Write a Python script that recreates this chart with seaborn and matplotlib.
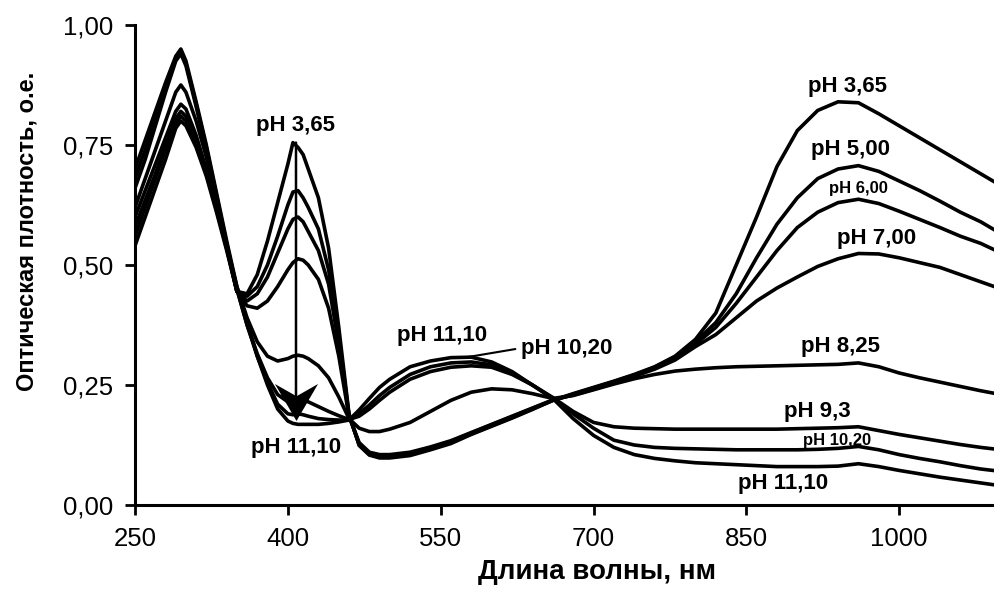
import matplotlib
matplotlib.use("Agg")
import matplotlib.pyplot as plt
from matplotlib.path import Path
import numpy as np
import pandas as pd
import seaborn as sns

# Wavelength grid, nm
wavelength = [250, 260, 270, 280, 290, 295, 300, 310, 320, 330, 340, 350, 360, 370, 380, 390,
              400, 405, 410, 415, 420, 430, 440, 450, 460, 470, 480, 490, 500, 520, 540, 560,
              580, 600, 620, 640, 660, 680, 700, 720, 740, 760, 780, 800, 820, 840, 860, 880,
              900, 920, 940, 960, 980, 1000, 1020, 1040, 1060, 1080, 1100]

# Optical density spectra at each pH
ph_3_65 = [0.54, 0.60, 0.66, 0.72, 0.785, 0.80, 0.79, 0.745, 0.685, 0.61, 0.53, 0.445, 0.44, 0.48, 0.55, 0.63,
           0.71, 0.755, 0.745, 0.73, 0.70, 0.64, 0.535, 0.37, 0.19, 0.124, 0.104, 0.098, 0.098, 0.103, 0.115, 0.128,
           0.147, 0.164, 0.181, 0.199, 0.218, 0.232, 0.245, 0.258, 0.272, 0.288, 0.31, 0.345, 0.40, 0.50, 0.60, 0.705,
           0.78, 0.822, 0.84, 0.838, 0.815, 0.79, 0.765, 0.74, 0.715, 0.69, 0.665]
ph_5_00 = [0.56, 0.62, 0.68, 0.74, 0.795, 0.81, 0.80, 0.755, 0.69, 0.615, 0.535, 0.445, 0.435, 0.455, 0.50, 0.56,
           0.625, 0.652, 0.655, 0.64, 0.62, 0.575, 0.49, 0.35, 0.188, 0.125, 0.105, 0.10, 0.10, 0.105, 0.117, 0.13,
           0.148, 0.165, 0.182, 0.20, 0.218, 0.231, 0.244, 0.257, 0.271, 0.287, 0.308, 0.34, 0.38, 0.44, 0.515, 0.585,
           0.64, 0.68, 0.70, 0.707, 0.695, 0.675, 0.655, 0.633, 0.61, 0.59, 0.565]
ph_6_00 = [0.58, 0.635, 0.69, 0.75, 0.805, 0.82, 0.81, 0.76, 0.695, 0.62, 0.535, 0.445, 0.425, 0.44, 0.475, 0.525,
           0.575, 0.595, 0.60, 0.59, 0.57, 0.53, 0.46, 0.335, 0.186, 0.127, 0.107, 0.102, 0.102, 0.107, 0.119, 0.132,
           0.15, 0.167, 0.184, 0.201, 0.218, 0.23, 0.243, 0.256, 0.27, 0.285, 0.305, 0.335, 0.37, 0.42, 0.475, 0.53,
           0.578, 0.61, 0.63, 0.637, 0.628, 0.612, 0.595, 0.578, 0.56, 0.545, 0.525]
ph_7_00 = [0.60, 0.655, 0.71, 0.765, 0.82, 0.835, 0.825, 0.77, 0.70, 0.625, 0.54, 0.445, 0.415, 0.41, 0.425, 0.455,
           0.49, 0.505, 0.513, 0.51, 0.50, 0.47, 0.41, 0.31, 0.185, 0.13, 0.11, 0.105, 0.105, 0.11, 0.121, 0.134,
           0.151, 0.168, 0.185, 0.202, 0.219, 0.229, 0.241, 0.254, 0.268, 0.283, 0.302, 0.33, 0.355, 0.39, 0.425, 0.452,
           0.475, 0.497, 0.513, 0.524, 0.523, 0.515, 0.505, 0.495, 0.48, 0.465, 0.45]
ph_8_25 = [0.62, 0.68, 0.74, 0.80, 0.86, 0.875, 0.86, 0.80, 0.725, 0.635, 0.54, 0.455, 0.39, 0.34, 0.31, 0.30,
           0.305, 0.31, 0.312, 0.31, 0.305, 0.29, 0.265, 0.225, 0.18, 0.16, 0.153, 0.153, 0.158, 0.172, 0.195, 0.218,
           0.235, 0.242, 0.24, 0.232, 0.222, 0.228, 0.24, 0.252, 0.263, 0.272, 0.279, 0.283, 0.286, 0.288, 0.289, 0.29,
           0.291, 0.292, 0.293, 0.296, 0.288, 0.275, 0.265, 0.256, 0.247, 0.238, 0.23]
ph_9_3 = [0.66, 0.72, 0.79, 0.86, 0.925, 0.94, 0.915, 0.83, 0.74, 0.64, 0.54, 0.45, 0.375, 0.315, 0.265, 0.23,
          0.215, 0.215, 0.218, 0.218, 0.215, 0.205, 0.195, 0.186, 0.178, 0.185, 0.20, 0.218, 0.235, 0.262, 0.278, 0.287,
          0.29, 0.287, 0.272, 0.25, 0.224, 0.195, 0.172, 0.163, 0.16, 0.159, 0.158, 0.158, 0.158, 0.158, 0.158, 0.158,
          0.159, 0.16, 0.161, 0.163, 0.155, 0.147, 0.14, 0.133, 0.126, 0.12, 0.115]
ph_10_20 = [0.68, 0.74, 0.805, 0.87, 0.93, 0.945, 0.92, 0.835, 0.745, 0.645, 0.545, 0.45, 0.375, 0.31, 0.255, 0.21,
            0.19, 0.188, 0.19, 0.188, 0.185, 0.18, 0.178, 0.177, 0.177, 0.19, 0.208, 0.228, 0.245, 0.272, 0.288, 0.296,
            0.298, 0.292, 0.275, 0.25, 0.222, 0.19, 0.16, 0.135, 0.125, 0.12, 0.118, 0.117, 0.116, 0.115, 0.115, 0.115,
            0.115, 0.116, 0.118, 0.122, 0.115, 0.105, 0.097, 0.09, 0.082, 0.075, 0.07]
ph_11_10 = [0.70, 0.76, 0.82, 0.88, 0.935, 0.95, 0.925, 0.84, 0.75, 0.65, 0.55, 0.455, 0.38, 0.31, 0.25, 0.20,
            0.175, 0.17, 0.168, 0.168, 0.168, 0.168, 0.17, 0.173, 0.177, 0.198, 0.222, 0.245, 0.262, 0.288, 0.30, 0.307,
            0.308, 0.298, 0.278, 0.25, 0.222, 0.18, 0.145, 0.12, 0.105, 0.097, 0.092, 0.088, 0.086, 0.084, 0.082, 0.08,
            0.08, 0.08, 0.081, 0.086, 0.08, 0.072, 0.065, 0.058, 0.052, 0.046, 0.04]

ph_values = ["3,65", "5,00", "6,00", "7,00", "8,25", "9,3", "10,20", "11,10"]
spectra = [ph_3_65, ph_5_00, ph_6_00, ph_7_00, ph_8_25, ph_9_3, ph_10_20, ph_11_10]

x_ticks = [250, 400, 550, 700, 850, 1000]
y_ticks = [0.0, 0.25, 0.5, 0.75, 1.0]
y_tick_labels = ["0,00", "0,25", "0,50", "0,75", "1,00"]

# Band at ~408 nm: arrow from its maximum (pH 3,65) down to its minimum (pH 11,10)
band_nm = 408
band_top = 0.755
band_bottom = 0.175

frames = []
for ph, values in zip(ph_values, spectra):
    assert len(values) == len(wavelength)
    frames.append(pd.DataFrame({"nm": wavelength, "od": values, "pH": ph}))
df = pd.concat(frames, ignore_index=True)

sns.set_theme(style="ticks")
plt.rcParams["font.family"] = ["Liberation Sans", "DejaVu Sans"]

fig = plt.figure(figsize=(9.95, 5.92), dpi=100)
ax = fig.add_axes([135 / 995, 87 / 592, 860 / 995, 480 / 592])

sns.lineplot(data=df, x="nm", y="od", hue="pH", hue_order=ph_values,
             palette=["black"] * len(ph_values), estimator=None, sort=False,
             legend=False, linewidth=2.6, ax=ax)
for line in ax.get_lines():
    line.set_solid_joinstyle("round")
    line.set_solid_capstyle("round")

ax.set_xlim(250, 1094)
ax.set_ylim(0, 1.0)
ax.set_xticks(x_ticks)
ax.set_xticklabels([str(t) for t in x_ticks])
ax.set_yticks(y_ticks)
ax.set_yticklabels(y_tick_labels)
ax.tick_params(axis="both", direction="out", length=7, width=2, color="black",
               labelsize=18.5, labelcolor="black", pad=9)

for side in ("top", "right"):
    ax.spines[side].set_visible(False)
for side in ("left", "bottom"):
    ax.spines[side].set_linewidth(2.2)
    ax.spines[side].set_color("black")

ax.set_xlabel("Длина волны, нм", fontsize=20, fontweight="bold", color="black")
ax.set_ylabel("Оптическая плотность, о.е.", fontsize=17, fontweight="bold", color="black")
ax.xaxis.set_label_coords(0.537, -0.112)
ax.yaxis.set_label_coords(-0.112, 0.57)

# Arrow shaft and a stealth-shaped head
ax.annotate("", xy=(band_nm, band_bottom + 0.03), xytext=(band_nm, band_top),
            arrowprops=dict(arrowstyle="-", lw=1.8, color="black",
                            shrinkA=0, shrinkB=0))
stealth = Path([(0, -1), (-1, 0.72), (0, 0.15), (1, 0.72), (0, -1)],
               [Path.MOVETO, Path.LINETO, Path.LINETO, Path.LINETO, Path.CLOSEPOLY])
head_size_pt = 31
head_half_height = (head_size_pt / 2) * (100 / 72) / 480
ax.plot([band_nm], [band_bottom + head_half_height], marker=stealth,
        markersize=head_size_pt, color="black", markeredgewidth=0, linestyle="none")

# Curve labels
labels = [
    ("pH 3,65", 408, 0.79, 16),
    ("pH 11,10", 408, 0.12, 16),
    ("pH 11,10", 551, 0.354, 16),
    ("pH 3,65", 949, 0.871, 16),
    ("pH 5,00", 952, 0.74, 16),
    ("pH 6,00", 960, 0.66, 12),
    ("pH 7,00", 978, 0.556, 16),
    ("pH 8,25", 942, 0.33, 16),
    ("pH 9,3", 920, 0.194, 16),
    ("pH 10,20", 939, 0.134, 12),
    ("pH 11,10", 886, 0.045, 16),
]
for text, x, y, size in labels:
    ax.text(x, y, text, ha="center", va="center", fontsize=size,
            fontweight="bold", color="black")

ax.annotate("pH 10,20", xy=(576, 0.308), xytext=(674, 0.327),
            ha="center", va="center", fontsize=16, fontweight="bold", color="black",
            arrowprops=dict(arrowstyle="-", lw=1.5, color="black",
                            relpos=(0, 0.5), shrinkA=2, shrinkB=0))

fig.savefig("out.png", dpi=100, facecolor="white")
